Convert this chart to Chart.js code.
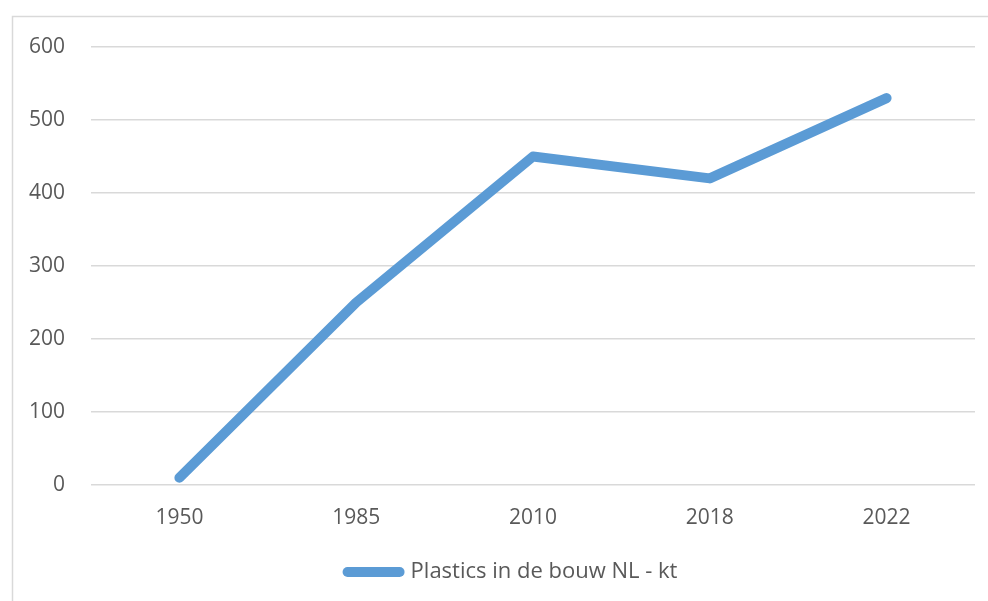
<!DOCTYPE html>
<html>
<head>
<meta charset="utf-8">
<script src="https://cdn.jsdelivr.net/npm/chart.js@4"></script>
<style>
html,body{margin:0;padding:0;background:#fff;}
#wrap{position:absolute;left:0;top:0;width:988px;height:601px;}
</style>
</head>
<body>
<div id="wrap"><canvas id="c" width="988" height="601"></canvas></div>
<script>
const years = ['1950', '1985', '2010', '2018', '2022'];
const plastics = [10, 250, 450, 420, 530];
const seriesName = 'Plastics in de bouw NL - kt';

const FONT = "'Open Sans', 'Noto Sans', sans-serif";
const TXT = '#595959';
const BLUE = '#5b9bd5';

const frame = {
  id: 'frame',
  beforeDraw(chart) {
    const ctx = chart.ctx;
    ctx.save();
    ctx.fillStyle = '#fff';
    ctx.fillRect(0, 0, chart.width, chart.height);
    ctx.strokeStyle = '#d9d9d9';
    ctx.lineWidth = 1.5;
    ctx.strokeRect(12.5, 16.5, 1000, 700);
    ctx.restore();
  },
  afterLayout(chart) {
    if (chart.legend) {
      chart.legend.left += 25;
      chart.legend.right += 25;
    }
  }
};

new Chart(document.getElementById('c'), {
  type: 'line',
  data: {
    labels: years,
    datasets: [{
      label: seriesName,
      data: plastics,
      borderColor: BLUE,
      backgroundColor: BLUE,
      borderWidth: 10,
      borderCapStyle: 'round',
      borderJoinStyle: 'round',
      pointRadius: 0,
      pointHoverRadius: 0,
      tension: 0,
      fill: false
    }]
  },
  options: {
    responsive: false,
    animation: false,
    devicePixelRatio: 1,
    layout: { padding: { left: 0, right: 13, top: 47, bottom: 8 } },
    scales: {
      x: {
        type: 'category',
        offset: true,
        grid: { display: false, drawTicks: false },
        border: { display: false },
        ticks: { color: TXT, font: { family: FONT, size: 21 }, padding: 20, maxRotation: 0 },
        afterFit(s) { s.height = 66; }
      },
      y: {
        min: 0, max: 600,
        grid: { color: '#d9d9d9', lineWidth: 1.5, drawTicks: false },
        border: { display: false },
        ticks: { stepSize: 100, color: TXT, font: { family: FONT, size: 21 }, padding: 26 },
        afterFit(s) { s.width = 91; }
      }
    },
    plugins: {
      legend: {
        position: 'bottom',
        labels: {
          usePointStyle: true,
          pointStyle: 'line',
          pointStyleWidth: 52,
          color: TXT,
          font: { family: FONT, size: 22 },
          padding: 10,
          generateLabels(chart) {
            const items = Chart.defaults.plugins.legend.labels.generateLabels(chart);
            return items.map(it => Object.assign(it, {
              lineCap: 'round',
              lineWidth: 10,
              strokeStyle: BLUE,
              fillStyle: BLUE,
              pointStyle: 'line'
            }));
          }
        }
      },
      tooltip: { enabled: false }
    }
  },
  plugins: [frame]
});
</script>
</body>
</html>
